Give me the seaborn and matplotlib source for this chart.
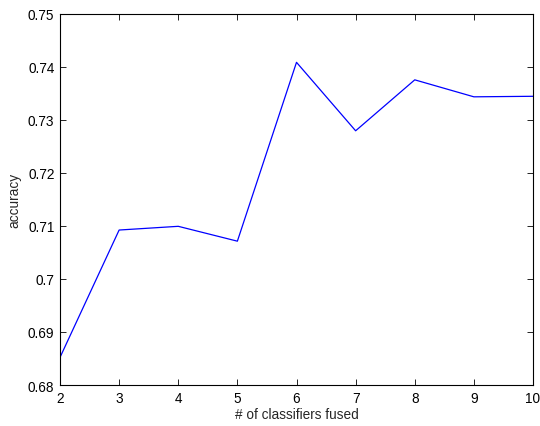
import matplotlib
matplotlib.use("Agg")
import matplotlib.pyplot as plt
import seaborn as sns
import pandas as pd

n_classifiers = [2, 3, 4, 5, 6, 7, 8, 9, 10]
accuracy = [0.6852, 0.7092, 0.7099, 0.7071, 0.7408, 0.7279, 0.7375, 0.7343, 0.7344]
y_ticks = [0.68, 0.69, 0.70, 0.71, 0.72, 0.73, 0.74, 0.75]
y_labels = ["0.68", "0.69", "0.7", "0.71", "0.72", "0.73", "0.74", "0.75"]

sns.set_style("ticks")
plt.rcParams['font.family'] = ['Liberation Sans', 'DejaVu Sans']

df = pd.DataFrame({"n": n_classifiers, "acc": accuracy})

fig = plt.figure(figsize=(5.4, 4.27), dpi=100)
ax = fig.add_axes([60/540, 41/427, 473/540, 371.5/427])
sns.lineplot(data=df, x="n", y="acc", ax=ax, color="#0000ff", linewidth=0.9)

ax.set_xlim(2, 10)
ax.set_ylim(0.68, 0.75)
ax.set_xticks(n_classifiers)
ax.set_yticks(y_ticks)
ax.set_yticklabels(y_labels)
ax.tick_params(direction="in", top=True, right=True, labelsize=9.8, length=4, width=0.6, pad=4, colors="black")
for s in ax.spines.values():
    s.set_linewidth(0.8)
    s.set_color("black")
ax.set_xlabel("# of classifiers fused", fontsize=9.8, labelpad=2)
ax.set_ylabel("accuracy", fontsize=9.8, labelpad=5)

fig.savefig("out.png", dpi=100)
